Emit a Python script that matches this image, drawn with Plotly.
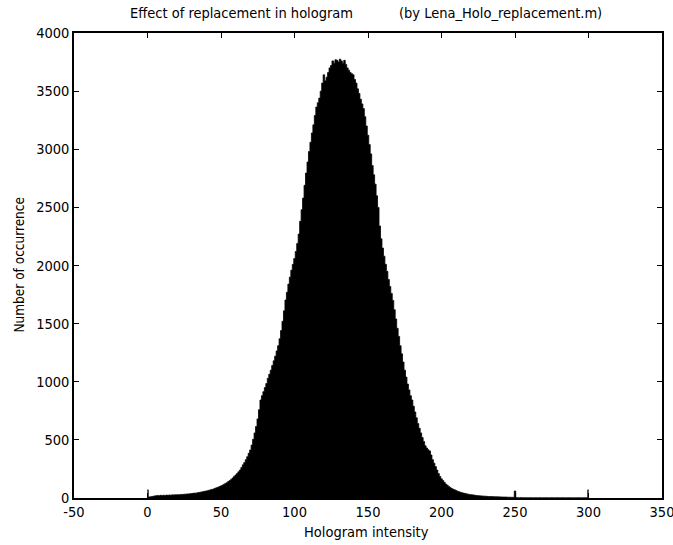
import plotly.graph_objects as go

# Histogram of hologram intensity (bin centres 0..300, width 1)
intensity = list(range(0, 301))

counts_0_99 = [
    70, 8, 10, 12, 15, 18, 20, 22, 20, 23,
    22, 24, 21, 25, 23, 26, 24, 27, 25, 28,
    27, 29, 28, 31, 30, 33, 32, 35, 34, 37,
    38, 40, 42, 41, 45, 47, 50, 52, 55, 58,
    60, 63, 67, 70, 74, 78, 83, 88, 92, 98,
    104, 110, 117, 124, 132, 141, 150, 160, 172, 185,
    198, 210, 225, 240, 262, 285, 305, 330, 355, 385,
    413, 455, 505, 560, 615, 680, 760, 843, 880, 915,
    950, 985, 1030, 1065, 1100, 1140, 1180, 1220, 1265, 1310,
    1370, 1440, 1520, 1610, 1703, 1770, 1840, 1900, 1960, 2010,
]
counts_100_199 = [
    2060, 2120, 2190, 2270, 2380, 2480, 2580, 2690, 2795, 2890,
    2980, 3060, 3140, 3210, 3290, 3363, 3400, 3440, 3500, 3569,
    3640, 3590, 3620, 3660, 3700, 3720, 3760, 3740, 3770, 3765,
    3750, 3775, 3760, 3740, 3765, 3730, 3700, 3680, 3660, 3650,
    3640, 3600, 3569, 3520, 3480, 3430, 3390, 3350, 3280, 3200,
    3120, 3040, 2960, 2860, 2780, 2700, 2600, 2500, 2340, 2230,
    2150, 2080, 2010, 1950, 1880, 1820, 1760, 1700, 1620, 1540,
    1460, 1390, 1310, 1240, 1170, 1100, 1040, 980, 930, 880,
    843, 790, 740, 690, 640, 600, 560, 520, 485, 450,
    430, 415, 405, 370, 330, 300, 270, 240, 210, 185,
]
counts_200_300 = [
    165, 150, 135, 120, 110, 100, 90, 82, 75, 70,
    64, 58, 53, 49, 45, 42, 39, 36, 33, 31,
    29, 27, 25, 23, 22, 20, 19, 18, 17, 16,
    15, 14, 13, 13, 12, 12, 11, 11, 10, 10,
    9, 9, 8, 8, 8, 7, 7, 6, 6, 6,
    60, 4, 3, 3, 4, 3, 3, 2, 3, 3,
    2, 3, 2, 2, 3, 2, 2, 3, 2, 2,
    2, 3, 2, 2, 2, 3, 2, 2, 2, 3,
    2, 2, 3, 2, 2, 2, 2, 3, 2, 2,
    2, 2, 2, 3, 2, 2, 2, 2, 3, 2,
    70,
]
counts = counts_0_99 + counts_100_199 + counts_200_300

x_ticks = [-50, 0, 50, 100, 150, 200, 250, 300, 350]
y_ticks = [0, 500, 1000, 1500, 2000, 2500, 3000, 3500, 4000]

title_main = "Effect of replacement in hologram"
title_source = "(by Lena_Holo_replacement.m)"
x_title = "Hologram intensity"
y_title = "Number of occurrence"

font_family = "DejaVu Sans Condensed, DejaVu Sans, sans-serif"
fs = 14.5

fig = go.Figure()
fig.add_trace(go.Scatter(
    x=intensity, y=counts, mode="lines", line_shape="hvh",
    line=dict(color="black", width=0.8),
    fill="tozeroy", fillcolor="black",
    showlegend=False, hoverinfo="x+y",
))

fig.update_layout(
    width=673, height=545,
    margin=dict(l=74, r=11, t=33, b=47, autoexpand=False),
    paper_bgcolor="white", plot_bgcolor="white",
    font=dict(family=font_family, size=fs, color="black"),
    annotations=[
        dict(text=title_main, xref="paper", yref="paper", x=0.092, y=1, yshift=20,
             xanchor="left", yanchor="middle", showarrow=False,
             font=dict(family=font_family, size=fs, color="black")),
        dict(text=title_source, xref="paper", yref="paper", x=0.55, y=1, yshift=20,
             xanchor="left", yanchor="middle", showarrow=False,
             font=dict(family=font_family, size=fs, color="black")),
        dict(text=x_title, xref="paper", yref="paper", x=0.497, y=0, yshift=-34,
             xanchor="center", yanchor="middle", showarrow=False,
             font=dict(family=font_family, size=fs, color="black")),
        dict(text=y_title, textangle=-90, xref="paper", yref="paper", x=0, y=0.5,
             xshift=-56, xanchor="center", yanchor="middle", showarrow=False,
             font=dict(family=font_family, size=13.5, color="black")),
    ],
)
fig.update_xaxes(
    range=[-50, 350], tickvals=x_ticks, ticktext=[str(v) for v in x_ticks],
    ticks="inside", ticklen=5, tickwidth=1, tickcolor="black",
    showline=True, linecolor="black", linewidth=1.5, mirror="ticks",
    showgrid=False, zeroline=False, automargin=False,
    ticklabeloverflow="allow",
)
fig.update_yaxes(
    range=[0, 4000], tickvals=y_ticks, ticktext=[str(v) for v in y_ticks],
    ticks="inside", ticklen=5, tickwidth=1, tickcolor="black",
    showline=True, linecolor="black", linewidth=1.5, mirror="ticks",
    showgrid=False, zeroline=False, automargin=False,
    ticklabeloverflow="allow",
)

fig.write_html("out.html", config={"displayModeBar": False},
               post_script="document.body.style.margin='0';")
